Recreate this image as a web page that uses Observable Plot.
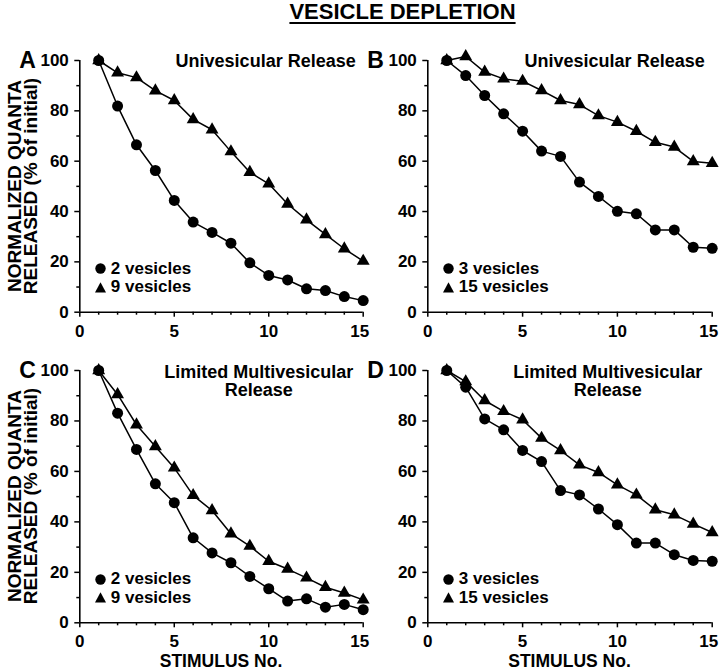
<!DOCTYPE html>
<html>
<head>
<meta charset="utf-8">
<script src="https://cdn.jsdelivr.net/npm/d3@7"></script>
<script src="https://cdn.jsdelivr.net/npm/@observablehq/plot@0.6"></script>
<style>
  html, body { margin: 0; padding: 0; background: #fff; }
  #root { position: relative; width: 720px; height: 670px; overflow: hidden;
          font-family: "Liberation Sans", Arial, Helvetica, sans-serif; font-weight: bold; color: #000; }
  .abs { position: absolute; white-space: nowrap; line-height: 1; }
  .plotbox { position: absolute; }
  .plotbox svg { overflow: visible; }
  .leg { position: absolute; font-size: 17px; line-height: 18.5px; }
  .leg div { display: flex; align-items: center; height: 18.5px; }
  .leg svg { margin-right: 5px; overflow: visible; }
</style>
</head>
<body>
<div id="root"></div>
<script>
// ---------------- data ----------------
const stimulus = [1, 2, 3, 4, 5, 6, 7, 8, 9, 10, 11, 12, 13, 14, 15];

const panelA_2ves  = [100, 81.9, 66.5, 56.3, 44.4, 35.8, 31.7, 27.4, 19.6, 14.6, 12.8, 9.3, 8.6, 6.2, 4.6];
const panelA_9ves  = [100, 95.1, 93.2, 88.0, 84.1, 76.6, 72.5, 63.8, 55.6, 51.0, 43.0, 36.7, 30.9, 25.2, 20.3];
const panelB_3ves  = [100, 94.0, 86.1, 78.8, 71.9, 64.0, 61.9, 51.7, 46.0, 40.1, 39.1, 32.7, 32.7, 25.8, 25.4];
const panelB_15ves = [100, 101.6, 95.4, 92.7, 91.8, 88.1, 84.1, 82.5, 78.1, 75.5, 71.9, 67.5, 65.6, 59.9, 59.2];
const panelC_2ves  = [100, 83.1, 68.7, 55.1, 47.6, 33.7, 27.7, 23.8, 18.4, 13.5, 8.6, 9.5, 6.2, 7.3, 5.2];
const panelC_9ves  = [100, 90.5, 78.5, 69.9, 61.4, 50.5, 44.5, 35.3, 30.4, 24.4, 21.3, 17.8, 14.1, 11.8, 9.1];
const panelD_3ves  = [100, 93.4, 80.8, 76.5, 68.3, 63.9, 52.4, 50.7, 45.1, 38.9, 31.6, 31.6, 27.0, 24.7, 24.4];
const panelD_15ves = [100, 95.6, 88.1, 83.8, 80.5, 73.2, 68.3, 62.6, 59.6, 54.7, 50.7, 44.8, 42.8, 39.2, 35.8];

const yMajorTicks = [0, 20, 40, 60, 80, 100];
const yMinorTicks = [10, 30, 50, 70, 90];
const xMajorTicks = [0, 5, 10, 15];
const xLastTick = [15];
const xMinorTicks = [1, 2, 3, 4, 6, 7, 8, 9, 11, 12, 13, 14];

const mainTitle = "VESICLE DEPLETION";
const yLabelLines = ["NORMALIZED QUANTA", "RELEASED (% of initial)"];
const xLabel = "STIMULUS No.";

const panels = [
  { letter: "A", title: ["Univesicular Release"], names: ["2 vesicles", "9 vesicles"],
    circles: panelA_2ves, triangles: panelA_9ves },
  { letter: "B", title: ["Univesicular Release"], names: ["3 vesicles", "15 vesicles"],
    circles: panelB_3ves, triangles: panelB_15ves },
  { letter: "C", title: ["Limited Multivesicular", "Release"], names: ["2 vesicles", "9 vesicles"],
    circles: panelC_2ves, triangles: panelC_9ves },
  { letter: "D", title: ["Limited Multivesicular", "Release"], names: ["3 vesicles", "15 vesicles"],
    circles: panelD_3ves, triangles: panelD_15ves }
];

// ---------------- layout ----------------
const root = document.getElementById("root");
const FONT = '"Liberation Sans", Arial, Helvetica, sans-serif';

// frame geometry in page pixels: [x0, x15] and [y100, y0]
const colX = [[79.3, 362.7], [427.3, 711.7]];
const rowY = [[60, 311.7], [370, 622.3]];
const boxes = [
  { left: 0, top: 40, width: 370, height: 300 },
  { left: 365, top: 40, width: 355, height: 300 },
  { left: 0, top: 330, width: 370, height: 340 },
  { left: 365, top: 330, width: 355, height: 340 }
];

function addDiv(cls, css, html) {
  const d = document.createElement("div");
  d.className = cls;
  Object.assign(d.style, css);
  d.innerHTML = html;
  root.appendChild(d);
  return d;
}

// main title
addDiv("abs", { left: "0", width: "805px", top: "1px", textAlign: "center", fontSize: "22px",
  textDecoration: "underline", textDecorationThickness: "2px", textUnderlineOffset: "3px" }, mainTitle);

panels.forEach((p, i) => {
  const col = i % 2, row = Math.floor(i / 2);
  const box = boxes[i];
  const [fx0, fx1] = colX[col];
  const [fy0, fy1] = rowY[row];

  const data = stimulus.flatMap((s, k) => [
    { stim: s, value: p.circles[k], series: p.names[0], kind: "circle" },
    { stim: s, value: p.triangles[k], series: p.names[1], kind: "triangle" }
  ]);

  const chart = Plot.plot({
    width: box.width,
    height: box.height,
    marginLeft: fx0 - box.left,
    marginRight: box.left + box.width - fx1,
    marginTop: fy0 - box.top,
    marginBottom: box.top + box.height - fy1,
    x: { domain: [0, 15] },
    y: { domain: [0, 100] },
    style: { background: "transparent", overflow: "visible", fontFamily: FONT,
             fontSize: "17px", fontWeight: "bold", color: "black" },
    marks: [
      Plot.axisY({ ticks: yMajorTicks, tickSize: 5, tickPadding: 6, label: null, strokeWidth: 1.5 }),
      Plot.axisY({ ticks: yMinorTicks, tickSize: 3, tickFormat: () => "", label: null, strokeWidth: 1.5 }),
      Plot.axisX({ ticks: xMajorTicks, tickSize: 5, tickPadding: 7.5, label: null, strokeWidth: 1.5,
                   tickFormat: d => (d === 15 ? "" : String(d)) }),
      Plot.axisX({ ticks: xLastTick, tickSize: 0, tickPadding: 12.5, label: null, dx: -3.5 }),
      Plot.axisX({ ticks: xMinorTicks, tickSize: 3, tickFormat: () => "", label: null, strokeWidth: 1.5 }),
      Plot.ruleX([0], { stroke: "black", strokeWidth: 1.6 }),
      Plot.ruleY([0], { stroke: "black", strokeWidth: 1.6 }),
      Plot.line(data, { x: "stim", y: "value", z: "series", stroke: "black", strokeWidth: 1.5 }),
      Plot.dot(data.filter(d => d.kind === "circle"), { x: "stim", y: "value", r: 5.5, fill: "black", symbol: "circle" }),
      Plot.dot(data.filter(d => d.kind === "triangle"), { x: "stim", y: "value", r: 4.8, fill: "black", symbol: "triangle" })
    ]
  });
  const holder = addDiv("plotbox", { left: box.left + "px", top: box.top + "px" }, "");
  holder.appendChild(chart);

  // panel letter
  addDiv("abs", { left: (fx0 - 60) + "px", top: (fy0 - 11.5) + "px", fontSize: "23px" }, p.letter);

  // panel title
  if (p.title.length === 1) {
    addDiv("abs", { left: (fx1 - 7 - 400) + "px", width: "400px", textAlign: "right",
      top: (fy0 - 8) + "px", fontSize: "18px" }, p.title[0]);
  } else {
    addDiv("abs", { left: (fx1 - 104 - 200) + "px", width: "400px", textAlign: "center",
      top: (fy0 - 7.5) + "px", fontSize: "18px", lineHeight: "18.5px" }, p.title.join("<br>"));
  }

  // legend
  const sym = (k) => k === "circle"
    ? '<svg width="11" height="11"><circle cx="5.5" cy="5.5" r="5.2" fill="black"/></svg>'
    : '<svg width="11" height="11"><path d="M5.5,0.3L11,10.4L0,10.4Z" fill="black"/></svg>';
  addDiv("leg", { left: (fx0 + 15.5) + "px", top: (fy1 - 52.2) + "px" },
    `<div>${sym("circle")}<span>${p.names[0]}</span></div><div>${sym("triangle")}<span>${p.names[1]}</span></div>`);

  // y label (left column only)
  if (col === 0) {
    const cy = (fy0 + fy1) / 2, cx = 23;
    addDiv("abs", { left: (cx - 150) + "px", top: (cy - 16) + "px", width: "300px", textAlign: "center",
      fontSize: "19px", lineHeight: "16px", transform: "rotate(-90deg)" }, yLabelLines.join("<br>"));
  }
  // x label (bottom row only)
  if (row === 1) {
    const cx = (fx0 + fx1) / 2;
    addDiv("abs", { left: (cx - 150) + "px", width: "300px", textAlign: "center",
      top: "653px", fontSize: "17.5px" }, xLabel);
  }
});
</script>
</body>
</html>
